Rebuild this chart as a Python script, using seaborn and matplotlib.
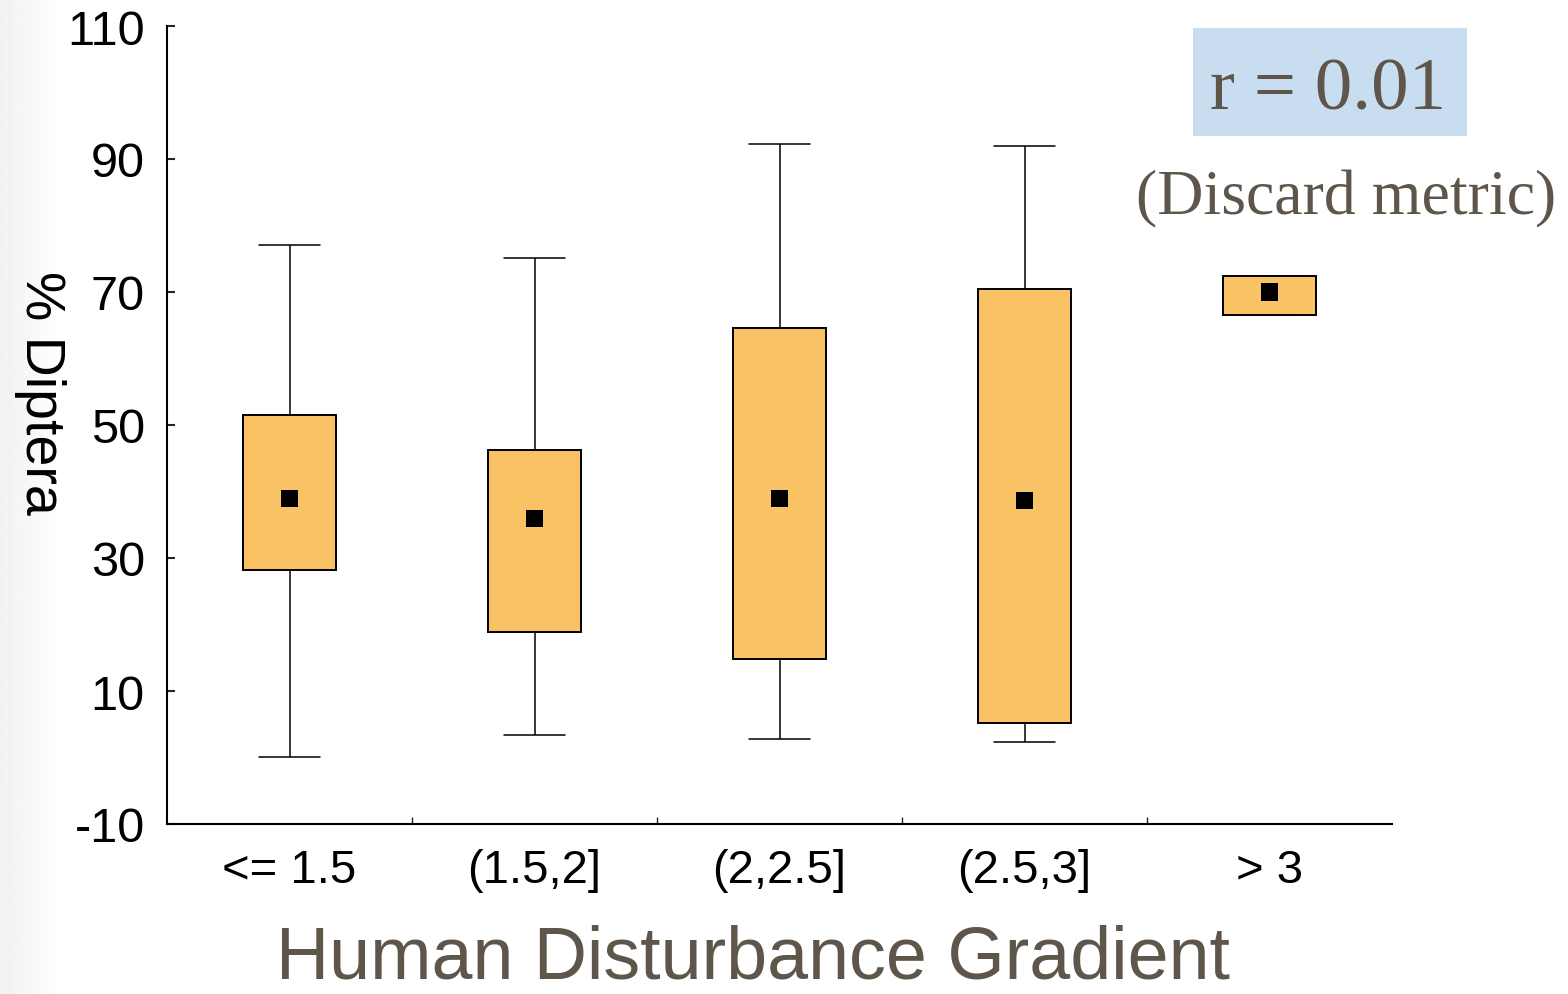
import numpy as np
import pandas as pd
import matplotlib
matplotlib.use("Agg")
import matplotlib.pyplot as plt
from matplotlib.patches import Rectangle
import seaborn as sns

# five-number summaries (whisker low, q1, centre, q3, whisker high)
categories = ["<= 1.5", "(1.5,2]", "(2,2.5]", "(2.5,3]", "> 3"]
whisker_low = [0.1, 3.4, 2.8, 2.3, 66.5]
q1 = [28.2, 18.9, 14.8, 5.2, 66.5]
q3 = [51.5, 46.2, 64.6, 70.5, 72.4]
whisker_high = [77.1, 75.1, 92.3, 92.0, 72.4]
means = [39.0, 35.9, 38.9, 38.7, 70.0]
yticks = [-10, 10, 30, 50, 70, 90, 110]

rows = []
for i, cat in enumerate(categories):
    for v in [whisker_low[i], q1[i], means[i], q3[i], whisker_high[i]]:
        rows.append({"group": cat, "value": v})
df = pd.DataFrame(rows)

sns.set_theme(style="white")
plt.rcParams["font.family"] = ["Liberation Sans", "DejaVu Sans"]

fig = plt.figure(figsize=(15.68, 9.95), dpi=100)

# faint grey strip at the left edge of the slide
bg = fig.add_axes([0, 0, 1, 1], zorder=-1)
x = np.arange(1568)
grad = np.tile(np.clip(0.945 + 0.055 * x / 60, 0, 1), (2, 1))
bg.imshow(grad, cmap="gray", vmin=0, vmax=1, aspect="auto", extent=[0, 1, 0, 1])
bg.axis("off")

ax = fig.add_axes([167 / 1568, 1 - 825 / 995, (1392 - 167) / 1568, (825 - 27) / 995])
ax.patch.set_alpha(0)

sns.boxplot(data=df, x="group", y="value", order=categories, whis=(0, 100),
            width=0.38, color="#F8C265", saturation=1, linecolor="black",
            linewidth=1.2, showfliers=False, capwidths=0.245,
            medianprops={"linewidth": 0},
            boxprops={"edgecolor": "black", "linewidth": 1.4},
            whiskerprops={"linewidth": 1.1}, capprops={"linewidth": 1.1},
            ax=ax)
sns.scatterplot(x=categories, y=means, marker="s", color="black", s=150,
                edgecolor="none", ax=ax, zorder=5)

ax.set_xlim(-0.5, 4.5)
ax.set_ylim(-10, 110)
ax.set_yticks(yticks)
ax.set_yticklabels([str(t) for t in yticks], fontsize=35, color="black")
ax.set_xticks(range(len(categories)))
ax.set_xticklabels(categories, fontsize=34, color="black")
ax.set_xticks([0.5, 1.5, 2.5, 3.5], minor=True)
ax.tick_params(axis="x", which="major", length=0, pad=17)
ax.tick_params(axis="x", which="minor", direction="in", length=5, width=1, bottom=True)
ax.tick_params(axis="y", direction="in", length=6, width=1.5, left=True, pad=16)

sns.despine(ax=ax, top=True, right=True)
for s in ["left", "bottom"]:
    ax.spines[s].set_color("black")
    ax.spines[s].set_linewidth(1.5)

ax.set_xlabel("")
ax.set_ylabel("")

fig.text(40 / 1568, 1 - 393 / 995, "% Diptera", rotation=-90, fontsize=40,
         color="black", ha="center", va="center")
fig.text(753 / 1568, 1 - 959 / 995, "Human Disturbance Gradient", fontsize=53,
         color="#5E554B", ha="center", va="center")

fig.patches.append(Rectangle((1193 / 1568, 1 - 137 / 995), 274 / 1568, 108 / 995,
                             transform=fig.transFigure, facecolor="#C8DDEF",
                             edgecolor="none", zorder=0))
fig.text(1328 / 1568, 1 - 92 / 995, "r = 0.01", fontsize=54, color="#5E554B",
         family=["Liberation Serif", "DejaVu Serif"], ha="center", va="center")
fig.text(1346 / 1568, 1 - 199 / 995, "(Discard metric)", fontsize=46,
         color="#5E554B", family=["Liberation Serif", "DejaVu Serif"],
         ha="center", va="center")

fig.savefig("out.png", dpi=100)
